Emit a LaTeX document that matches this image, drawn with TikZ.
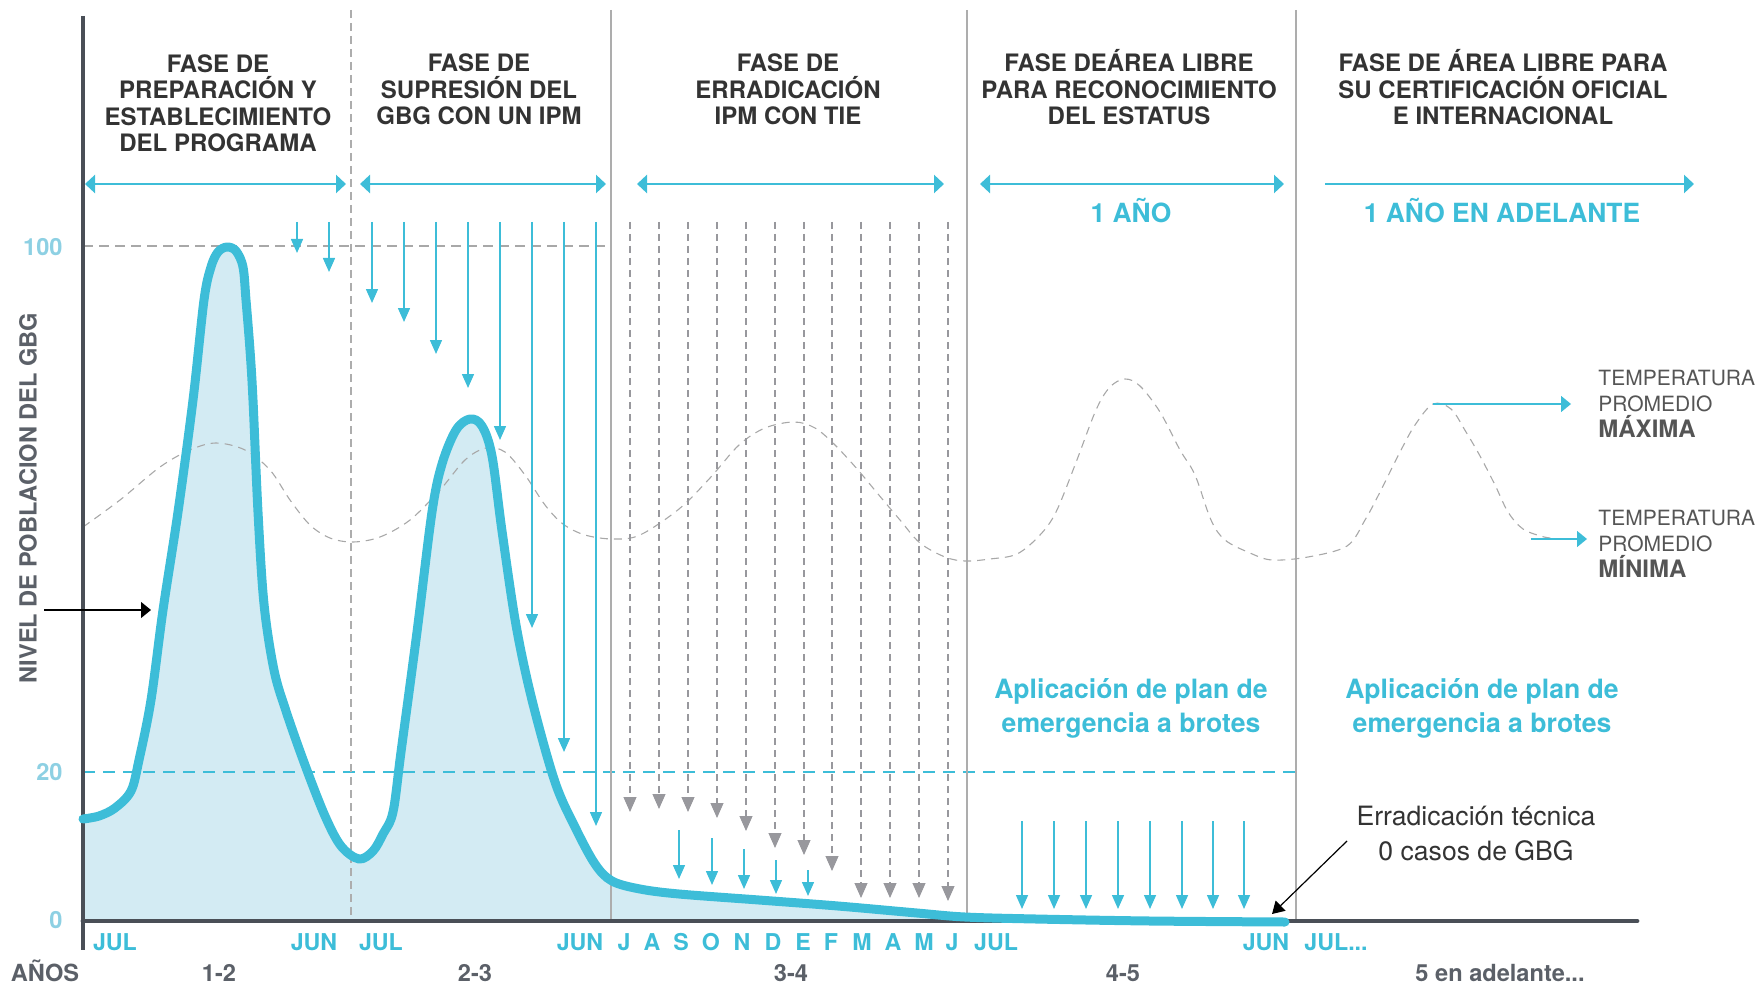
\documentclass[tikz,border=0pt]{standalone}
\usepackage{fontspec}
\setmainfont{TeX Gyre Heros}
\usetikzlibrary{arrows.meta}
\definecolor{cblue}{HTML}{3DBDD8}
\definecolor{cfill}{HTML}{D3EBF3}
\definecolor{cdark}{HTML}{333333}
\definecolor{caxis}{HTML}{4A4F57}
\definecolor{cgrayt}{HTML}{5B6068}
\definecolor{ctemp}{HTML}{555555}
\definecolor{ctick}{HTML}{8DD0E3}
\definecolor{cdiv}{HTML}{ADADAD}
\definecolor{cdash}{HTML}{A8A8A8}
\definecolor{carrg}{HTML}{98989D}
\newcommand{\tbold}[1]{{\fontsize{12pt}{13pt}\selectfont\bfseries #1}}
\tikzset{
  hdr/.style={font=\fontsize{12pt}{13.3pt}\selectfont\bfseries, text=cdark, align=center, anchor=base, inner sep=0pt},
  dur/.style={font=\fontsize{13.2pt}{15pt}\selectfont\bfseries, text=cblue, anchor=base, inner sep=0pt},
  mon/.style={font=\fontsize{11.6pt}{13pt}\selectfont\bfseries, text=cblue, anchor=base, inner sep=0pt},
  yr/.style={font=\fontsize{11.8pt}{13pt}\selectfont\bfseries, text=cgrayt, anchor=base, inner sep=0pt},
  tick/.style={font=\fontsize{11.8pt}{13pt}\selectfont\bfseries, text=ctick, anchor=base east, inner sep=0pt},
  temp/.style={font=\fontsize{10.5pt}{13pt}\selectfont, text=ctemp, align=left, anchor=base west, inner sep=0pt},
  plan/.style={font=\fontsize{13.3pt}{17pt}\selectfont\bfseries, text=cblue, align=center, anchor=base, inner sep=0pt},
  phasearrow/.style={cblue, line width=1.4pt, {Triangle[length=5pt,width=9pt]}-{Triangle[length=5pt,width=9pt]}},
  phaseone/.style={cblue, line width=1.4pt, -{Triangle[length=5pt,width=9pt]}},
  bluedrop/.style={cblue, line width=0.75pt, -{Triangle[length=7pt,width=6pt]}},
  graydrop/.style={carrg, line width=0.55pt, dash pattern=on 3.5pt off 2.5pt, -{Triangle[length=7.5pt,width=6.5pt]}},
  blkarrow/.style={black, line width=0.6pt, -{Triangle[length=6pt,width=7pt]}},
  temparrow/.style={cblue, line width=0.7pt, -{Triangle[length=5pt,width=8pt]}},
  divider/.style={cdiv, line width=1pt},
  tempcurve/.style={cdash, line width=0.55pt, dash pattern=on 4pt off 3pt},
  popline/.style={cblue, line width=4.5pt, line cap=round, line join=round},
}
\begin{document}
\begin{tikzpicture}[x=0.5pt,y=-0.5pt]
\useasboundingbox (0,0) rectangle (1760,984);

% area under population curve
\fill[cfill] plot[smooth,tension=0.55] coordinates {(83,819) (99,816) (115,808) (131,791) (139,760) (151,700) (163,610) (178,512) (193,400) (204,300) (211,267) (218,252) (227,247) (236,251) (243,267) (246,300) (250,350) (253,400) (258,512) (264,604) (274,670) (286,711) (305,765) (325,816) (341,846) (359,859) (373,851) (383,834) (393,812) (401,752) (417,632) (432,512) (442,464) (456,430) (470,419) (482,426) (492,456) (502,531) (516,625) (532,700) (555,782) (575,827) (595,864) (612,881) (640,889) (679,894) (759,900) (838,906) (917,913) (965,917) (1036,919) (1150,921) (1285,922)} -- (1285,921) -- (83,921) -- cycle;

% reference levels
\draw[cdash, line width=0.6pt, dash pattern=on 5pt off 3pt] (83,246) -- (611,246);
\draw[cblue, line width=1.2pt, dash pattern=on 6pt off 4pt] (83,772) -- (1296,772);

% phase dividers
\draw[cdiv, line width=0.6pt, dash pattern=on 4pt off 2.5pt] (351,10) -- (351,921);
\draw[divider] (611,10) -- (611,921);
\draw[divider] (967,10) -- (967,921);
\draw[divider] (1296,10) -- (1296,921);

% temperature curve
\draw[tempcurve] plot[smooth,tension=0.55] coordinates {(83,527) (120,500) (160,467) (190,450) (216,443) (245,450) (270,470) (290,500) (310,525) (330,538) (353,542) (380,537) (410,520) (440,490) (465,460) (486,448) (505,452) (525,475) (545,505) (563,524) (585,535) (613,539) (640,535) (679,509) (710,478) (739,445) (765,428) (794,422) (815,428) (835,445) (858,470) (878,494) (900,520) (920,543) (945,557) (965,561) (990,559) (1017,554) (1040,535) (1056,512) (1075,465) (1096,410) (1110,387) (1125,379) (1140,386) (1160,412) (1180,450) (1195,475) (1211,520) (1225,540) (1250,553) (1272,560) (1308,557) (1347,546) (1365,520) (1379,494) (1400,452) (1415,425) (1433,404) (1451,409) (1466,432) (1480,456) (1495,485) (1508,512) (1523,529) (1544,537) (1555,538)};

% blue drops, phases 1 and 2
\foreach \x/\t in {297/253, 329/272, 372/303, 404/322, 436/354, 468/388, 500/440, 532/628, 564/752, 596/826}
  \draw[bluedrop] (\x,222) -- (\x,\t);
% gray dashed drops, phase 3
\foreach \x/\t in {630/812, 659/809, 688/812, 717/818, 746/831, 775/848, 804/855, 832/871, 861/898, 890/898, 919/898, 948/901}
  \draw[graydrop] (\x,222) -- (\x,\t);
% short blue drops, phase 3
\foreach \x/\s/\t in {679/830/879, 712/838/885, 744/849/889, 776/860/894, 808/870/896}
  \draw[bluedrop] (\x,\s) -- (\x,\t);
% blue drops, phase 4
\foreach \x in {1022,1054,1086,1118,1150,1182,1213,1244}
  \draw[bluedrop] (\x,821) -- (\x,909);

% axes
\draw[caxis, line width=2.4pt, line cap=round] (83,921) -- (1637,921);
\draw[caxis, line width=2pt] (83,16) -- (83,950);

% population curve
\draw[popline] plot[smooth,tension=0.55] coordinates {(83,819) (99,816) (115,808) (131,791) (139,760) (151,700) (163,610) (178,512) (193,400) (204,300) (211,267) (218,252) (227,247) (236,251) (243,267) (246,300) (250,350) (253,400) (258,512) (264,604) (274,670) (286,711) (305,765) (325,816) (341,846) (359,859) (373,851) (383,834) (393,812) (401,752) (417,632) (432,512) (442,464) (456,430) (470,419) (482,426) (492,456) (502,531) (516,625) (532,700) (555,782) (575,827) (595,864) (612,881) (640,889) (679,894) (759,900) (838,906) (917,913) (965,917) (1036,919) (1150,921) (1285,922)};

% phase arrows
\draw[phasearrow] (85,184) -- (346,184);
\draw[phasearrow] (360,184) -- (606,184);
\draw[phasearrow] (637,184) -- (944,184);
\draw[phasearrow] (980,184) -- (1284,184);
\draw[phaseone] (1325,184) -- (1694,184);

% headers (anchor = baseline of last line)
\node[hdr] (h1) at (218,152) {FASE DE\\PREPARACIÓN Y\\ESTABLECIMIENTO\\DEL PROGRAMA};
\node[hdr] (h2) at (479,125) {FASE DE\\SUPRESIÓN DEL\\GBG CON UN IPM};
\node[hdr] (h3) at (788,125) {FASE DE\\ERRADICACIÓN\\IPM CON TIE};
\node[hdr] (h4) at (1129,125) {FASE DEÁREA LIBRE\\PARA RECONOCIMIENTO\\DEL ESTATUS};
\node[hdr] (h5) at (1503,125) {FASE DE ÁREA LIBRE PARA\\SU CERTIFICACIÓN OFICIAL\\E INTERNACIONAL};

\node[dur] (d4) at (1131,223) {1 AÑO};
\node[dur] (d5) at (1502,223) {1 AÑO EN ADELANTE};

% y axis label and ticks
\node[font=\fontsize{11.8pt}{13pt}\selectfont\bfseries, text=cgrayt, rotate=90, inner sep=0pt] (ylab) at (28,498) {NIVEL DE POBLACION DEL GBG};
\node[tick] (t100) at (63,256) {100};
\node[tick] (t20) at (63,780) {20};
\node[tick] (t0) at (63,928) {0};

% months
\foreach \x/\m [count=\i] in {115/JUL, 314/JUN, 381/JUL, 580/JUN, 624/J, 652/A, 681/S, 711/O, 742/N, 773/D, 803/E, 831/F, 862/M, 893/A, 924/M, 952/J, 996/JUL, 1266/JUN}
  \node[mon] (m\i) at (\x,950) {\m};
\node[mon] (mlast) at (1336,950) {JUL...};

% years
\node[yr] (yA) at (45,981) {AÑOS};
\node[yr] (y12) at (219,981) {1-2};
\node[yr] (y23) at (475,981) {2-3};
\node[yr] (y34) at (791,981) {3-4};
\node[yr] (y45) at (1123,981) {4-5};
\node[yr] (y5) at (1500,981) {5 en adelante...};

% temperature legend
\node[temp] (tmax) at (1598,437) {TEMPERATURA\\PROMEDIO\\\tbold{MÁXIMA}};
\node[temp] (tmin) at (1598,577) {TEMPERATURA\\PROMEDIO\\\tbold{MÍNIMA}};
\coordinate (tmaxs) at (1433,404);
\coordinate (tmaxe) at (1571,404);
\coordinate (tmins) at (1531,539);
\coordinate (tmine) at (1587,539);
\draw[temparrow] (tmaxs) -- (tmaxe);
\draw[temparrow] (tmins) -- (tmine);

% emergency plan texts
\node[plan] (p4) at (1131,732) {Aplicación de plan de\\emergencia a brotes};
\node[plan] (p5) at (1482,732) {Aplicación de plan de\\emergencia a brotes};

% technical eradication
\node[font=\fontsize{13.3pt}{17.5pt}\selectfont, text=cdark, align=center, anchor=base, inner sep=0pt] (erad) at (1476,860) {Erradicación técnica\\0 casos de GBG};
\coordinate (erads) at (1347,841);
\coordinate (eradt) at (1272,914);
\draw[blkarrow] (erads) -- (eradt);

% left pointer
\coordinate (ls) at (44,610);
\coordinate (lt) at (151,610);
\draw[blkarrow, -{Triangle[length=5pt,width=8pt]}] (ls) -- (lt);
\end{tikzpicture}
\end{document}
